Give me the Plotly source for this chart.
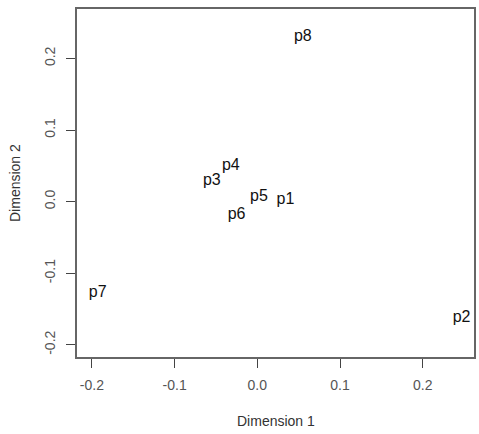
import plotly.graph_objects as go

labels = ["p1", "p2", "p3", "p4", "p5", "p6", "p7", "p8"]
dim1 = [0.034, 0.247, -0.055, -0.032, 0.002, -0.025, -0.193, 0.055]
dim2 = [0.002, -0.162, 0.029, 0.050, 0.006, -0.019, -0.127, 0.230]
tick_vals = [-0.2, -0.1, 0.0, 0.1, 0.2]
tick_text = ["-0.2", "-0.1", "0.0", "0.1", "0.2"]

FONT = "Liberation Sans, Arial, sans-serif"

fig = go.Figure()
fig.add_trace(go.Scatter(
    x=dim1, y=dim2, text=labels, mode="text",
    textposition="middle center",
    textfont=dict(family=FONT, size=16, color="#111111"),
    hoverinfo="skip", showlegend=False,
))

axis_common = dict(
    showgrid=False, zeroline=False, showline=True, mirror=True,
    linecolor="#666666", linewidth=1.5,
    ticks="outside", ticklen=9, tickwidth=1, tickcolor="#444444",
    tickfont=dict(family=FONT, size=14, color="#555555"),
    tickvals=tick_vals, ticktext=tick_text,
)

fig.update_layout(
    width=479, height=434,
    margin=dict(l=77, r=3, t=9, b=77),
    paper_bgcolor="white", plot_bgcolor="white",
    xaxis=dict(range=[-0.218, 0.262], ticklabelstandoff=5, **axis_common),
    yaxis=dict(range=[-0.217, 0.269], tickangle=-90, ticklabelstandoff=6, **axis_common),
    annotations=[
        dict(text="Dimension 1", xref="paper", yref="paper", x=0.5, y=0,
             yshift=-64, showarrow=False, xanchor="center", yanchor="middle",
             font=dict(family=FONT, size=14, color="#333333")),
        dict(text="Dimension 2", xref="paper", yref="paper", x=0, y=0.5,
             xshift=-62, showarrow=False, xanchor="center", yanchor="middle",
             textangle=-90, font=dict(family=FONT, size=14, color="#333333")),
    ],
)

fig.write_html("out.html")
